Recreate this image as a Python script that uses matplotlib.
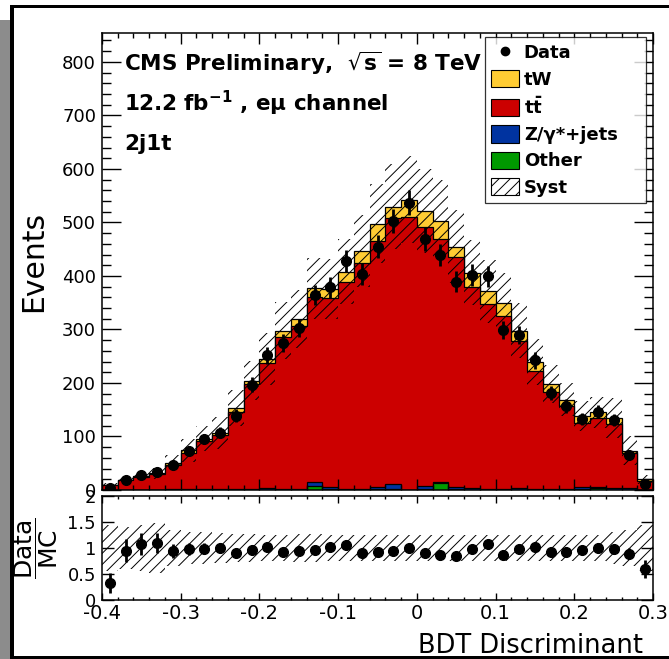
import numpy as np
import matplotlib
matplotlib.use("Agg")
import matplotlib.pyplot as plt
from matplotlib.lines import Line2D
from matplotlib.patches import Patch, Rectangle
from matplotlib.ticker import MultipleLocator

plt.rcParams["font.family"] = ["DejaVu Sans"]
plt.rcParams["axes.unicode_minus"] = False
plt.rcParams["hatch.linewidth"] = 0.7
plt.rcParams["hatch.color"] = "black"

# BDT discriminant in the 2j1t e-mu region, 35 bins of 0.02
edges = np.round(np.linspace(-0.4, 0.3, 36), 3)

data = np.array([3, 18, 28, 34, 47, 73, 95, 107, 139, 197, 252, 275, 303, 364, 379,
                 428, 404, 455, 502, 537, 469, 439, 389, 402, 399, 299, 290, 242, 181,
                 157, 133, 146, 131, 65, 12])
ttbar = np.array([7.9, 17.2, 24.2, 28.6, 46.5, 68, 90.9, 101.9, 144.6, 196, 234, 283,
                  304.6, 346, 353, 387, 422, 461, 497.5, 509.2, 483, 454, 430, 376.5,
                  346, 323, 275.5, 221, 182, 155, 121, 129, 118.5, 64.5, 16.2])
tw = np.array([0.5, 1, 1, 1.5, 2.5, 4, 4, 4, 7, 6, 7, 13, 14, 16, 17, 19, 23, 32, 21,
               32, 31, 34, 19, 26, 23, 24, 19, 16, 14, 12, 12, 11, 11, 4, 3])
zjets = np.array([0.3, 0.5, 0.5, 0.6, 0.6, 1.5, 0.8, 0.8, 1.0, 1.5, 3.5, 1.5, 1.0, 8,
                  4, 1.5, 1.5, 4, 9, 0.5, 7, 1, 5, 3, 1.5, 1.5, 3, 1.5, 1.5, 1.5, 4, 1,
                  4, 4, 0.5])
other = np.array([0.3, 0.3, 0.3, 0.3, 0.4, 0.5, 0.3, 0.3, 0.4, 0.5, 0.5, 0.5, 0.4, 7,
                  1, 0.5, 0.5, 1, 1.5, 0.3, 1, 14, 1, 0.5, 0.5, 0.5, 0.5, 0.5, 0.5, 0.5,
                  1, 4, 0.5, 0.5, 0.3])
# relative systematic uncertainty on the total prediction
syst = np.array([0.45, 0.4, 0.35, 0.32, 0.3, 0.3, 0.25, 0.28, 0.22, 0.18, 0.2, 0.18,
                 0.17, 0.15, 0.15, 0.15, 0.15, 0.15, 0.15, 0.15, 0.15, 0.15, 0.15, 0.15,
                 0.16, 0.16, 0.17, 0.18, 0.18, 0.18, 0.2, 0.2, 0.28, 0.37, 0.4])
ratio_syst = np.array([0.45, 0.4, 0.45, 0.48, 0.35, 0.3, 0.3, 0.28, 0.27, 0.27, 0.25,
                       0.25, 0.27, 0.27, 0.25, 0.25, 0.25, 0.25, 0.25, 0.25, 0.25, 0.25,
                       0.25, 0.25, 0.25, 0.25, 0.25, 0.25, 0.25, 0.25, 0.25, 0.25, 0.3,
                       0.35, 0.45])

labels = ["Data", "tW", r"$\mathbf{t\bar{t}}$", "Z/γ*+jets", "Other", "Syst"]
col_tw, col_tt, col_z, col_other = "#ffcc33", "#cc0000", "#0033a0", "#009900"
xtick_vals = [-0.4, -0.3, -0.2, -0.1, 0.0, 0.1, 0.2, 0.3]
xtick_labels = ["-0.4", "-0.3", "-0.2", "-0.1", "0", "0.1", "0.2", "0.3"]

W, H = 669, 659
fig = plt.figure(figsize=(W / 100, H / 100), dpi=100)

# window frame around the canvas
fig.add_artist(Rectangle((0, 0), 10 / W, (H - 20) / H, transform=fig.transFigure,
                         color="#8c8c8c", lw=0, zorder=-5))
fig.add_artist(Rectangle((10 / W, 0), 4 / W, (H - 5) / H, transform=fig.transFigure,
                         color="black", lw=0, zorder=-4))
fig.add_artist(Rectangle((10 / W, 1 - 8 / H), 1, 3 / H, transform=fig.transFigure,
                         color="black", lw=0, zorder=-4))
fig.add_artist(Rectangle((10 / W, 0), 1, 3.5 / H, transform=fig.transFigure,
                         color="black", lw=0, zorder=-4))

ax = fig.add_axes([102 / W, 1 - 490 / H, 551 / W, 457 / H])
rax = fig.add_axes([102 / W, 1 - 600 / H, 551 / W, 104 / H])

centers = 0.5 * (edges[1:] + edges[:-1])
total = ttbar + tw + zjets + other

# stacked histograms, each drawn from zero with its own outline
for h, c in [(total, col_tw), (ttbar + zjets + other, col_tt),
             (zjets + other, col_z), (other, col_other)]:
    ax.stairs(h, edges, fill=True, facecolor=c, lw=0)
    ax.stairs(h, edges, baseline=0, color="black", lw=0.9)

ax.stairs(total * (1 + syst), edges, baseline=total * (1 - syst), fill=True,
          facecolor="none", edgecolor="black", hatch="///", lw=0, zorder=3)
ax.errorbar(centers, data, yerr=np.sqrt(data), fmt="o", color="black", ms=7,
            elinewidth=2, capsize=0, zorder=5)

ax.set_xlim(-0.4, 0.3)
ax.set_ylim(0, 854)
ax.yaxis.set_major_locator(MultipleLocator(100))
ax.yaxis.set_minor_locator(MultipleLocator(20))
ax.xaxis.set_major_locator(MultipleLocator(0.1))
ax.xaxis.set_minor_locator(MultipleLocator(0.02))
ax.tick_params(which="both", direction="in", top=True, right=True, width=1)
ax.tick_params(axis="y", which="major", length=13.5)
ax.tick_params(axis="y", which="minor", length=6.5)
ax.tick_params(axis="x", which="major", length=8)
ax.tick_params(axis="x", which="minor", length=3.8)
ax.tick_params(labelbottom=False, labelsize=13, pad=4.3)
for s in ax.spines.values():
    s.set_linewidth(1.1)

ax.text(0.04, 0.9175, r"CMS Preliminary,  $\mathbf{\sqrt{s}}$ = 8 TeV",
        transform=ax.transAxes, fontsize=15.5, fontweight="bold")
ax.text(0.04, 0.829, r"12.2 fb$^{\mathbf{-1}}$ , eμ channel",
        transform=ax.transAxes, fontsize=15.5, fontweight="bold")
ax.text(0.04, 0.744, "2j1t", transform=ax.transAxes, fontsize=15.5,
        fontweight="bold")

handles = [
    Line2D([], [], marker="o", color="black", ls="none", ms=6),
    Patch(facecolor=col_tw, edgecolor="black", lw=0.8),
    Patch(facecolor=col_tt, edgecolor="black", lw=0.8),
    Patch(facecolor=col_z, edgecolor="black", lw=0.8),
    Patch(facecolor=col_other, edgecolor="black", lw=0.8),
    Patch(facecolor="white", edgecolor="black", hatch="///", lw=0.8),
]
# legend box spans x 485..646 px, top at 37 px
lx0 = (485 - 102) / 551
lw_ = (646 - 485) / 551
ltop = (490 - 37) / 457
leg = ax.legend(handles, labels, loc="upper left",
                bbox_to_anchor=(lx0, ltop - 0.4, lw_, 0.4), mode="expand",
                borderaxespad=0, frameon=True, fancybox=False, shadow=False,
                prop={"size": 13, "weight": "bold"}, handlelength=1.55,
                handleheight=1.1, handletextpad=0.25, labelspacing=0.42,
                borderpad=0.35)
leg.get_frame().set_edgecolor("black")
leg.get_frame().set_linewidth(0.9)

# ratio panel
rax.stairs(1 + ratio_syst, edges, baseline=1 - ratio_syst, fill=True,
           facecolor="none", edgecolor="black", hatch="///", lw=0)
rax.errorbar(centers, data / total, yerr=np.sqrt(data) / total, fmt="o",
             color="black", ms=7, elinewidth=2, capsize=0, zorder=5)
rax.set_xlim(-0.4, 0.3)
rax.set_ylim(0, 2)
rax.set_yticks([0, 0.5, 1, 1.5, 2])
rax.set_yticklabels(["0", "0.5", "1", "1.5", "2"])
rax.set_xticks(xtick_vals)
rax.set_xticklabels(xtick_labels)
rax.xaxis.set_minor_locator(MultipleLocator(0.02))
rax.tick_params(which="both", direction="in", top=True, right=True, width=1)
rax.tick_params(axis="y", which="major", length=8.5, labelsize=13, pad=4.3)
rax.tick_params(axis="x", which="major", length=5, labelsize=14, pad=3)
rax.tick_params(axis="x", which="minor", length=2.5)
for s in rax.spines.values():
    s.set_linewidth(1.1)

fig.text(34 / W, 1 - 261 / H, "Events", rotation=90, ha="center", va="center",
         fontsize=21.5)
fig.text(643 / W, 1 - 646 / H, "BDT Discriminant", ha="right", va="center",
         fontsize=18.5)
fig.text(36 / W, 1 - 548 / H, r"$\dfrac{\mathrm{Data}}{\mathrm{MC}}$", rotation=90,
         ha="center", va="center", fontsize=18)

fig.savefig("out.png", dpi=100)
